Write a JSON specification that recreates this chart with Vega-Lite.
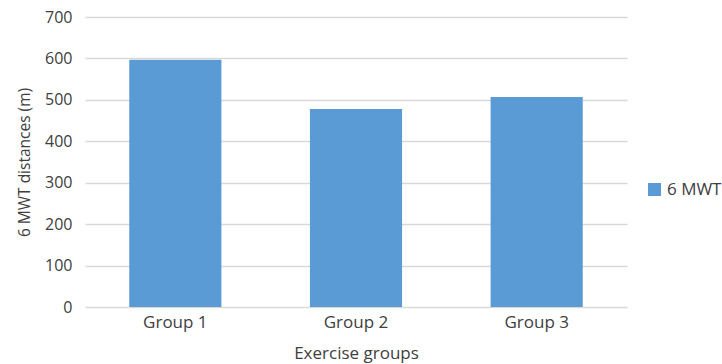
{
  "$schema": "https://vega.github.io/schema/vega-lite/v6.json",
  "width": 542,
  "height": 290,
  "autosize": {"type": "none"},
  "padding": {"left": 85, "top": 17, "right": 95, "bottom": 57},
  "background": "white",
  "config": {"view": {"stroke": null}, "font": "Open Sans"},
  "data": {
    "values": [
      {"group": "Group 1", "distance": 597, "series": "6 MWT"},
      {"group": "Group 2", "distance": 478, "series": "6 MWT"},
      {"group": "Group 3", "distance": 507, "series": "6 MWT"}
    ]
  },
  "mark": {"type": "bar"},
  "encoding": {
    "x": {
      "field": "group",
      "type": "nominal",
      "sort": null,
      "title": "Exercise groups",
      "scale": {"paddingInner": 0.49, "paddingOuter": 0.245},
      "axis": {
        "labelAngle": 0,
        "domain": false,
        "ticks": false,
        "labelPadding": 7,
        "labelFontSize": 17,
        "labelColor": "#404040",
        "titleFontSize": 17,
        "titleFontWeight": "normal",
        "titleColor": "#404040",
        "titlePadding": 15
      }
    },
    "y": {
      "field": "distance",
      "type": "quantitative",
      "scale": {"domain": [0, 700]},
      "title": "6 MWT distances (m)",
      "axis": {
        "values": [0, 100, 200, 300, 400, 500, 600, 700],
        "domain": false,
        "ticks": false,
        "labelPadding": 13,
        "labelFontSize": 16,
        "labelColor": "#404040",
        "gridColor": "#D9D9D9",
        "gridWidth": 1.3,
        "titleFontSize": 15.5,
        "titleFontWeight": "normal",
        "titleColor": "#404040",
        "titlePadding": 12
      }
    },
    "color": {
      "field": "series",
      "type": "nominal",
      "scale": {"range": ["#5B9BD5"]},
      "legend": {
        "title": null,
        "orient": "none",
        "legendX": 561,
        "legendY": 164,
        "symbolType": "square",
        "symbolSize": 170,
        "symbolStrokeWidth": 0,
        "symbolOpacity": 1,
        "labelFontSize": 17,
        "labelColor": "#404040",
        "labelOffset": 4
      }
    }
  }
}
